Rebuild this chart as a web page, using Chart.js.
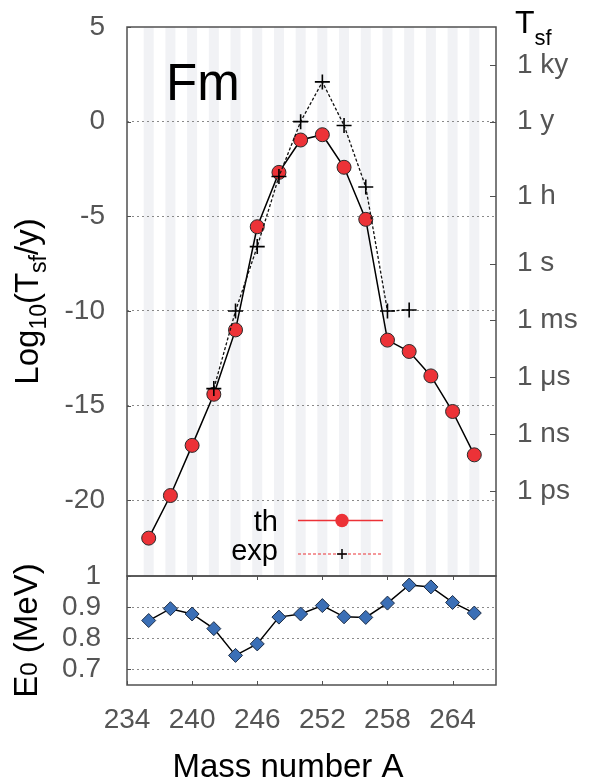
<!DOCTYPE html>
<html>
<head>
<meta charset="utf-8">
<title>Fm spontaneous fission half-lives</title>
<script src="https://cdn.jsdelivr.net/npm/chart.js@4.4.1/dist/chart.umd.min.js"></script>
<style>
  html, body { margin: 0; padding: 0; background: #ffffff; }
  #wrap { position: relative; width: 591px; height: 783px; }
  #wrap canvas { position: absolute; left: 0; top: 0; }
</style>
</head>
<body>
<div id="wrap">
  <canvas id="tsf" width="591" height="783"></canvas>
  <canvas id="e0" width="591" height="783"></canvas>
</div>
<script>
// Fermium isotopes: even mass numbers
const massNumbers = [236, 238, 240, 242, 244, 246, 248, 250, 252, 254, 256, 258, 260, 262, 264, 266];
// theoretical log10(Tsf / y)
const thLog10 = [-22.0, -19.75, -17.1, -14.4, -11.0, -5.55, -2.68, -0.97, -0.69, -2.41, -5.16, -11.54, -12.14, -13.43, -15.31, -17.6];
// measured log10(Tsf / y)
const expMass = [242, 244, 246, 248, 250, 252, 254, 256, 258, 260];
const expLog10 = [-14.1, -10.0, -6.6, -2.9, 0.0, 2.1, -0.2, -3.45, -10.0, -9.95];
// zero-point energy E0 (MeV)
const e0MeV = [0.857, 0.895, 0.878, 0.831, 0.745, 0.782, 0.868, 0.878, 0.905, 0.869, 0.867, 0.913, 0.971, 0.965, 0.915, 0.881];

// axis ticks
const logTicks = [5, 0, -5, -10, -15, -20];
const tsfTickValues = [3, 0, -3.94, -7.5, -10.5, -13.5, -16.5, -19.5];
const tsfTickLabels = ['1 ky', '1 y', '1 h', '1 s', '1 ms', '1 μs', '1 ns', '1 ps'];
const e0Ticks = [1, 0.9, 0.8, 0.7];
const e0TickLabels = ['1', '0.9', '0.8', '0.7'];
const massTicks = [234, 240, 246, 252, 258, 264];

const FONT = "'Liberation Sans', Arial, Helvetica, sans-serif";
const TICK_COLOR = '#555555';
const FRAME_COLOR = '#505050';
const GRID_COLOR = '#8a8a8a';
const STRIPE_COLOR = '#f1f2f5';
const RED = '#ec3237';
const BLUE = '#3b6fb6';

// draw a run of text pieces with mixed sizes/offsets
function richText(ctx, parts, cx, baseline, align) {
  let total = 0;
  parts.forEach(p => { ctx.font = p.size + 'px ' + FONT; p.w = ctx.measureText(p.t).width; total += p.w; });
  let x = align === 'left' ? cx : cx - total / 2;
  ctx.textAlign = 'left';
  ctx.textBaseline = 'alphabetic';
  parts.forEach(p => {
    ctx.font = p.size + 'px ' + FONT;
    ctx.fillText(p.t, x, baseline + (p.dy || 0));
    x += p.w;
  });
}

function frame(ctx, a) {
  ctx.save();
  ctx.strokeStyle = FRAME_COLOR;
  ctx.lineWidth = 1.5;
  ctx.strokeRect(a.left, a.top, a.right - a.left, a.bottom - a.top);
  ctx.restore();
}

function innerTicksY(ctx, a, scale, values, side, len) {
  ctx.save();
  ctx.strokeStyle = FRAME_COLOR;
  ctx.lineWidth = 1;
  ctx.beginPath();
  values.forEach(v => {
    const y = Math.round(scale.getPixelForValue(v)) + 0.5;
    if (side === 'left') { ctx.moveTo(a.left, y); ctx.lineTo(a.left + len, y); }
    else { ctx.moveTo(a.right, y); ctx.lineTo(a.right - len, y); }
  });
  ctx.stroke();
  ctx.restore();
}

function innerTicksX(ctx, a, scale, values, len) {
  ctx.save();
  ctx.strokeStyle = FRAME_COLOR;
  ctx.lineWidth = 1;
  ctx.beginPath();
  values.forEach(v => {
    const x = Math.round(scale.getPixelForValue(v)) + 0.5;
    ctx.moveTo(x, a.bottom); ctx.lineTo(x, a.bottom - len);
    ctx.moveTo(x, a.top); ctx.lineTo(x, a.top + len);
  });
  ctx.stroke();
  ctx.restore();
}

// keep the plot frame exactly where the layout padding puts it
function fixedWidth(w) {
  return s => { s.width = w; s.paddingTop = 0; s.paddingBottom = 0; };
}

// upper panel decorations: shaded mass columns, frame, labels, legend
const upperPanel = {
  id: 'upperPanel',
  beforeDraw(chart) {
    const { ctx, chartArea: a } = chart;
    const xs = chart.scales.x;
    ctx.save();
    ctx.fillStyle = STRIPE_COLOR;
    massNumbers.forEach(m => {
      const x0 = xs.getPixelForValue(m - 0.46);
      const x1 = xs.getPixelForValue(m + 0.46);
      ctx.fillRect(x0, a.top, x1 - x0, a.bottom - a.top);
    });
    ctx.restore();
  },
  afterDraw(chart) {
    const { ctx, chartArea: a } = chart;
    frame(ctx, a);
    innerTicksY(ctx, a, chart.scales.y, logTicks, 'left', 4);
    innerTicksY(ctx, a, chart.scales.yTsf, tsfTickValues, 'right', 6);

    ctx.save();
    ctx.fillStyle = '#000';
    // element symbol
    ctx.font = '51px ' + FONT;
    ctx.textAlign = 'left';
    ctx.textBaseline = 'alphabetic';
    ctx.fillText('Fm', a.left + 39, a.top + 73);

    // right axis title T_sf
    richText(ctx, [{ t: 'T', size: 32 }, { t: 'sf', size: 22, dy: 12 }], a.right + 19, a.top + 6, 'left');

    // left axis title Log10(Tsf/y)
    ctx.save();
    ctx.translate(38, (a.top + a.bottom) / 2);
    ctx.rotate(-Math.PI / 2);
    richText(ctx, [
      { t: 'Log', size: 33 }, { t: '10', size: 23, dy: 8 },
      { t: '(T', size: 33 }, { t: 'sf', size: 23, dy: 8 }, { t: '/y)', size: 33 }
    ], 0, 0, 'center');
    ctx.restore();

    // legend
    const lx0 = a.left + 171, lx1 = a.left + 256, lmid = a.left + 215;
    ctx.font = '29px ' + FONT;
    ctx.textAlign = 'right';
    ctx.fillText('th', a.left + 151, 531);
    ctx.fillText('exp', a.left + 151, 560);
    ctx.strokeStyle = RED;
    ctx.lineWidth = 1.5;
    ctx.beginPath(); ctx.moveTo(lx0, 520.5); ctx.lineTo(lx1, 520.5); ctx.stroke();
    ctx.fillStyle = RED;
    ctx.beginPath(); ctx.arc(lmid, 520.5, 6.7, 0, Math.PI * 2); ctx.fill();
    ctx.setLineDash([3, 2]);
    ctx.lineWidth = 1.2;
    ctx.beginPath(); ctx.moveTo(lx0, 554); ctx.lineTo(lx1, 554); ctx.stroke();
    ctx.setLineDash([]);
    ctx.strokeStyle = '#000';
    ctx.lineWidth = 1.5;
    ctx.beginPath();
    ctx.moveTo(lmid - 5, 554); ctx.lineTo(lmid + 5, 554);
    ctx.moveTo(lmid, 549); ctx.lineTo(lmid, 559);
    ctx.stroke();
    ctx.restore();
  }
};

// lower panel decorations: frame, ticks, axis titles
const lowerPanel = {
  id: 'lowerPanel',
  afterDraw(chart) {
    const { ctx, chartArea: a } = chart;
    frame(ctx, a);
    innerTicksY(ctx, a, chart.scales.y, e0Ticks, 'left', 4);
    innerTicksX(ctx, a, chart.scales.x, massTicks, 4);
    ctx.save();
    ctx.fillStyle = '#000';
    ctx.font = '33px ' + FONT;
    ctx.textAlign = 'center';
    ctx.textBaseline = 'alphabetic';
    ctx.fillText('Mass number A', 288, 777);
    ctx.translate(37, (a.top + a.bottom) / 2);
    ctx.rotate(-Math.PI / 2);
    richText(ctx, [{ t: 'E', size: 33 }, { t: '0', size: 24 }, { t: ' (MeV)', size: 33 }], 0, 0, 'center');
    ctx.restore();
  }
};

const tickFont = { family: FONT, size: 28 };

new Chart(document.getElementById('tsf'), {
  type: 'line',
  data: {
    datasets: [
      {
        label: 'exp',
        data: expMass.map((m, i) => ({ x: m, y: expLog10[i] })),
        borderColor: '#111',
        borderWidth: 1.3,
        borderDash: [3, 2],
        pointStyle: 'cross',
        pointRadius: 7.5,
        pointBorderWidth: 1.6,
        pointBorderColor: '#000',
        fill: false,
        tension: 0
      },
      {
        label: 'th',
        data: massNumbers.map((m, i) => ({ x: m, y: thLog10[i] })),
        borderColor: '#000',
        borderWidth: 1.5,
        pointStyle: 'circle',
        pointRadius: 7,
        pointBackgroundColor: RED,
        pointBorderColor: '#2a2a2a',
        pointBorderWidth: 1,
        fill: false,
        tension: 0
      }
    ]
  },
  options: {
    responsive: false,
    animation: false,
    events: [],
    layout: { padding: { left: 0, right: 0, top: 27, bottom: 207 } },
    plugins: { legend: { display: false }, tooltip: { enabled: false } },
    scales: {
      x: { type: 'linear', min: 234, max: 268, display: false },
      y: {
        position: 'left',
        min: -24, max: 5,
        afterBuildTicks: s => { s.ticks = logTicks.map(v => ({ value: v })); },
        afterFit: fixedWidth(127),
        ticks: { padding: 22, color: TICK_COLOR, font: tickFont, autoSkip: false },
        grid: {
          drawTicks: false,
          lineWidth: 1,
          color: c => (c.tick && c.tick.value === 5) ? 'rgba(0,0,0,0)' : GRID_COLOR
        },
        border: { display: false, dash: [2, 3] }
      },
      yTsf: {
        position: 'right',
        min: -24, max: 5,
        afterBuildTicks: s => { s.ticks = tsfTickValues.map(v => ({ value: v })); },
        afterFit: fixedWidth(95),
        ticks: {
          padding: 21, color: TICK_COLOR, font: tickFont, autoSkip: false,
          callback: (v, i) => tsfTickLabels[i]
        },
        grid: { drawOnChartArea: false, drawTicks: false },
        border: { display: false }
      }
    }
  },
  plugins: [upperPanel]
});

new Chart(document.getElementById('e0'), {
  type: 'line',
  data: {
    datasets: [{
      label: 'E0',
      data: massNumbers.map((m, i) => ({ x: m, y: e0MeV[i] })),
      borderColor: '#000',
      borderWidth: 1.5,
      pointStyle: 'rectRot',
      pointRadius: 7,
      pointBackgroundColor: BLUE,
      pointBorderColor: '#1c2c44',
      pointBorderWidth: 1,
      fill: false,
      tension: 0
    }]
  },
  options: {
    responsive: false,
    animation: false,
    events: [],
    layout: { padding: { left: 0, right: 95, top: 576, bottom: 0 } },
    plugins: { legend: { display: false }, tooltip: { enabled: false } },
    scales: {
      x: {
        type: 'linear', min: 234, max: 268,
        afterBuildTicks: s => { s.ticks = massTicks.map(v => ({ value: v })); },
        afterFit: s => { s.height = 98; },
        ticks: { padding: 18, color: TICK_COLOR, font: tickFont, autoSkip: false, maxRotation: 0 },
        grid: { display: false, drawTicks: false },
        border: { display: false }
      },
      y: {
        position: 'left',
        min: 0.65, max: 1.0,
        afterBuildTicks: s => { s.ticks = e0Ticks.map(v => ({ value: v })); },
        afterFit: fixedWidth(127),
        ticks: {
          padding: 26, color: TICK_COLOR, font: tickFont, autoSkip: false,
          callback: (v, i) => e0TickLabels[i]
        },
        grid: {
          drawTicks: false,
          lineWidth: 1,
          color: c => (c.tick && c.tick.value === 1) ? 'rgba(0,0,0,0)' : GRID_COLOR
        },
        border: { display: false, dash: [2, 3] }
      }
    }
  },
  plugins: [lowerPanel]
});
</script>
</body>
</html>
